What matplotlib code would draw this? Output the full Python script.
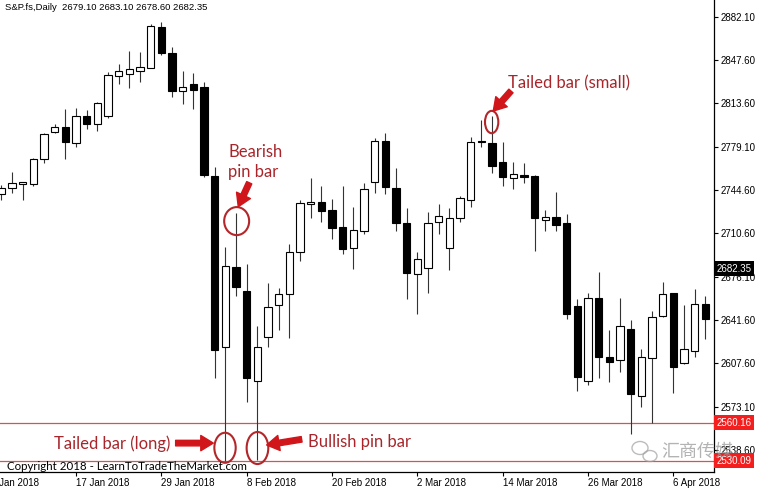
import matplotlib
matplotlib.use('Agg')
import matplotlib.pyplot as plt
from matplotlib.patches import Rectangle, Ellipse

# daily OHLC (bar 0 = 8 Jan 2018)
opens = [2741.4, 2746.2, 2749.4, 2749.4, 2769.2, 2790.6, 2794.5, 2782.1, 2803.0, 2796.9,
         2803.2, 2834.9, 2836.5, 2839.1, 2841.5, 2873.5, 2853.4, 2823.1, 2828.6, 2826.2,
         2755.7, 2620.4, 2683.8, 2664.6, 2593.3, 2627.9, 2653.5, 2662.2, 2695.2, 2733.5,
         2734.9, 2728.5, 2715.1, 2698.7, 2712.1, 2751.2, 2783.4, 2746.4, 2718.2, 2678.1,
         2683.0, 2719.0, 2698.9, 2722.2, 2736.7, 2783.8, 2782.1, 2766.6, 2754.1, 2756.7,
         2755.9, 2720.8, 2723.5, 2718.2, 2652.7, 2593.5, 2659.3, 2612.0, 2609.9, 2634.2,
         2581.4, 2611.7, 2644.8, 2662.8, 2607.3, 2617.0, 2654.0]
highs = [2748.6, 2758.9, 2751.3, 2770.4, 2790.2, 2796.9, 2808.6, 2809.4, 2808.0, 2814.6,
         2838.4, 2844.2, 2854.8, 2853.7, 2876.2, 2878.0, 2857.7, 2839.1, 2837.6, 2830.4,
         2763.1, 2699.2, 2726.1, 2686.0, 2637.1, 2671.2, 2666.7, 2701.6, 2736.7, 2754.4,
         2747.8, 2737.7, 2747.8, 2730.9, 2749.9, 2785.6, 2789.5, 2761.8, 2730.6, 2695.7,
         2727.4, 2733.5, 2730.1, 2739.9, 2786.4, 2800.1, 2803.2, 2782.9, 2767.0, 2765.8,
         2756.5, 2728.8, 2742.8, 2725.6, 2658.0, 2662.8, 2679.4, 2633.7, 2659.3, 2641.6,
         2618.6, 2649.0, 2671.9, 2663.2, 2653.5, 2665.9, 2660.6]
lows = [2736.7, 2742.2, 2736.7, 2747.8, 2766.4, 2790.2, 2768.9, 2778.7, 2793.2, 2791.6,
        2801.4, 2828.6, 2825.2, 2830.4, 2841.0, 2851.6, 2818.1, 2812.8, 2809.0, 2755.2,
        2595.4, 2530.0, 2660.6, 2576.9, 2530.5, 2620.0, 2633.7, 2627.1, 2688.1, 2722.2,
        2719.3, 2705.5, 2693.7, 2681.8, 2709.5, 2742.5, 2741.4, 2711.9, 2658.0, 2646.4,
        2663.2, 2709.7, 2681.2, 2719.5, 2731.4, 2778.9, 2757.8, 2747.8, 2745.2, 2749.9,
        2696.5, 2712.4, 2712.4, 2642.2, 2585.6, 2590.1, 2595.9, 2592.7, 2600.6, 2551.3,
        2572.9, 2560.2, 2644.2, 2584.0, 2606.6, 2612.0, 2626.3]
closes = [2746.2, 2750.2, 2750.6, 2769.2, 2789.4, 2794.5, 2782.9, 2803.5, 2796.7, 2813.3,
          2835.5, 2838.7, 2840.3, 2841.8, 2874.6, 2852.9, 2823.1, 2826.2, 2823.6, 2756.5,
          2617.8, 2684.4, 2668.0, 2595.9, 2620.4, 2651.7, 2662.2, 2695.7, 2734.1, 2735.3,
          2727.7, 2714.5, 2697.6, 2713.2, 2745.4, 2783.4, 2746.8, 2718.2, 2679.1, 2689.7,
          2718.2, 2723.8, 2722.2, 2738.0, 2782.9, 2783.0, 2763.6, 2754.7, 2757.5, 2754.7,
          2722.2, 2723.5, 2716.9, 2646.4, 2596.2, 2659.3, 2612.0, 2608.1, 2636.8, 2582.7,
          2612.0, 2644.2, 2662.2, 2604.6, 2618.4, 2654.0, 2642.2]

date_bars = [-1, 7, 15, 23, 31, 39, 47, 55, 63]
date_labels = ['5 Jan 2018', '17 Jan 2018', '29 Jan 2018', '8 Feb 2018', '20 Feb 2018',
               '2 Mar 2018', '14 Mar 2018', '26 Mar 2018', '6 Apr 2018']
price_ticks = [2538.60, 2573.10, 2607.60, 2641.60, 2676.10, 2710.60, 2744.60,
               2779.10, 2813.60, 2847.60, 2882.10]
level_lines = [2560.16, 2530.09]
last_price = 2682.35
header = 'S&P.fs,Daily  2679.10 2683.10 2678.60 2682.35'

W, H = 757, 488
RED_TXT = '#A8262B'
RED_ARR = '#D0161B'

fig = plt.figure(figsize=(W / 100, H / 100), dpi=100)
ax = fig.add_axes([0, 16 / H, 714 / W, 472 / H])

# candles
for i in range(len(opens)):
    o, h, l, c = opens[i], highs[i], lows[i], closes[i]
    ax.vlines(i, l, h, color='#333333', lw=0.8, zorder=2)
    bull = c >= o
    ax.add_patch(Rectangle((i - 0.34, min(o, c)), 0.68, max(abs(c - o), 0.4),
                           facecolor='white' if bull else 'black',
                           edgecolor='black', lw=0.8, zorder=3))

for lvl in level_lines:
    ax.axhline(lvl, color='#D05555', lw=0.9, zorder=1)

# axes styling (MT4 look)
for s in ['left', 'top']:
    ax.spines[s].set_visible(False)
ax.spines['right'].set_linewidth(0.9)
ax.spines['bottom'].set_linewidth(0.9)
ax.yaxis.tick_right()
ax.set_yticks(price_ticks)
ax.set_yticklabels([f'{p:.2f}' for p in price_ticks])
ax.set_xticks(date_bars[1:])
ax.set_xticklabels(date_labels[1:], ha='left')
ax.tick_params(axis='both', length=3, width=0.8, labelsize=7, pad=1.5)
for lab in ax.get_xticklabels() + ax.get_yticklabels():
    lab.set_family('Liberation Sans')
ax.set_xlim(-0.122, 66.8)
ax.set_ylim(2521.2, 2895.2)

# first date label sits left of the view and gets cut by the canvas edge
ax.annotate(date_labels[0], xy=(date_bars[0], 0), xycoords=('data', 'axes fraction'),
            xytext=(0, -4.5), textcoords='offset points', ha='left', va='top',
            fontsize=7, family='Liberation Sans', annotation_clip=False)

# price boxes on the right scale
ytr = ax.get_yaxis_transform()
ax.text(1.004, last_price, f'{last_price:.2f}', transform=ytr, ha='left', va='center',
        fontsize=7, family='Liberation Sans', color='white', zorder=6, clip_on=False,
        bbox=dict(boxstyle='square,pad=0.25', fc='black', ec='none'))
for lvl in level_lines:
    ax.text(1.004, lvl, f'{lvl:.2f}', transform=ytr, ha='left', va='center',
            fontsize=7, family='Liberation Sans', color='white', zorder=6, clip_on=False,
            bbox=dict(boxstyle='square,pad=0.25', fc='#F41E1E', ec='none'))

# annotations
ann_font = dict(family='Lato', fontsize=12, color=RED_TXT)
ax.text(21.25, 2766.8, 'Bearish\npin bar', ha='left', va='center', linespacing=1.25, **ann_font)
ax.text(47.49, 2829.4, 'Tailed bar (small)', ha='left', va='center', **ann_font)
ax.text(4.97, 2543.9, 'Tailed bar (long)', ha='left', va='center', **ann_font)
ax.text(28.72, 2545.2, 'Bullish pin bar', ha='left', va='center', **ann_font)

ell = dict(fill=False, ec='#B3262A', lw=1.5, zorder=5)
ax.add_patch(Ellipse((22.06, highs[22] - 6.1), 2.34, 22.2, **ell))
ax.add_patch(Ellipse((45.96, highs[46] - 4.7), 1.25, 17.7, **ell))
ax.add_patch(Ellipse((20.97, lows[21] + 10.4), 2.0, 23.8, **ell))
ax.add_patch(Ellipse((24.01, lows[24] + 9.7), 2.03, 25.4, **ell))

arrow = dict(arrowstyle='simple,head_length=0.9,head_width=1.1,tail_width=0.4',
             color=RED_ARR, shrinkA=0, shrinkB=0, mutation_scale=10)
ax.annotate('', xy=(22.21, 2731.4), xytext=(23.24, 2750.4), arrowprops=arrow, zorder=6)
ax.annotate('', xy=(46.11, 2807.2), xytext=(47.77, 2823.1), arrowprops=arrow, zorder=6)
ax.annotate('', xy=(19.87, 2544.1), xytext=(16.34, 2544.1), arrowprops=arrow, zorder=6)
ax.annotate('', xy=(24.87, 2542.6), xytext=(28.15, 2547.1), arrowprops=arrow, zorder=6)

# header, copyright and watermark
fig.text(5 / W, 1 - 8 / H, header, fontsize=6.8, family='Liberation Sans', va='center')
fig.text(7 / W, 1 - 467 / H, 'Copyright 2018 - LearnToTradeTheMarket.com',
         fontsize=8.3, family='Lato', va='center')
fig.text(661 / W, 1 - 452 / H, '汇商传媒', fontsize=13, family='Noto Sans CJK SC',
         color='#9A9A9A', alpha=0.75, va='center')
fig.patches.append(Ellipse((640 / W, 1 - 448 / H), 16 / W, 13 / H, fill=False,
                           ec='#A0A0A0', lw=1.0, alpha=0.7, transform=fig.transFigure))
fig.patches.append(Ellipse((650 / W, 1 - 456 / H), 14 / W, 11 / H, fill=False,
                           ec='#A0A0A0', lw=1.0, alpha=0.7, transform=fig.transFigure))

fig.savefig('out.png', dpi=100, facecolor='white')
